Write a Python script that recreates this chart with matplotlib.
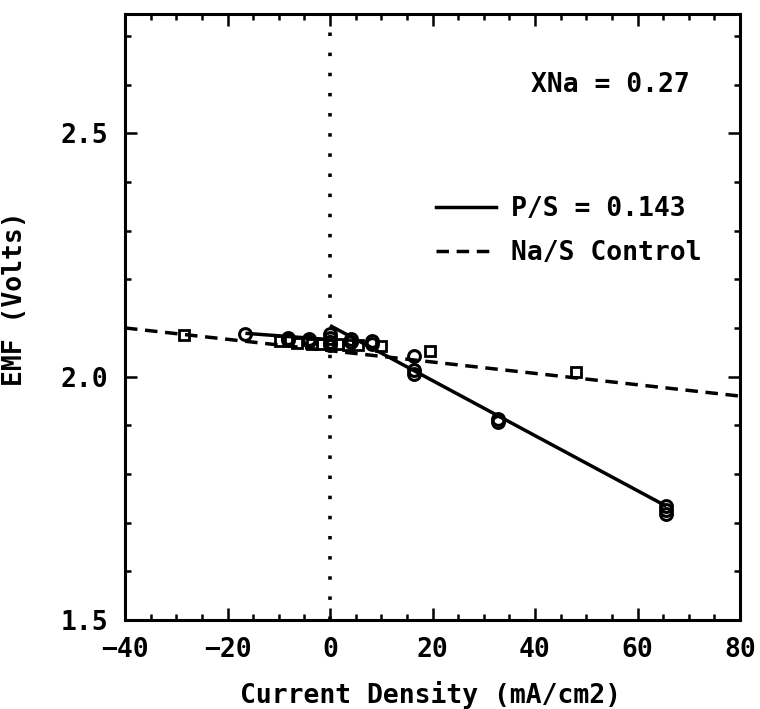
import matplotlib
matplotlib.use('Agg')
from matplotlib import pyplot as plt
from matplotlib.lines import Line2D
from matplotlib.ticker import MultipleLocator

# P/S = 0.143 cell (open circles)
ps_x = [-16.5, -8.2, -8.2, -4.1, -4.1, 0.0, 0.0, 0.0, 0.0, 4.1, 4.1, 8.2, 8.2,
        16.4, 16.4, 16.4, 32.8, 32.8, 65.6, 65.6, 65.6]
ps_y = [2.088, 2.080, 2.076, 2.078, 2.074, 2.088, 2.080, 2.072, 2.066, 2.078, 2.072,
        2.074, 2.067, 2.042, 2.014, 2.006, 1.913, 1.907, 1.734, 1.726, 1.718]
# fitted lines for the P/S cell: discharge side and charge side
ps_fit_neg_x = [-16.5, 0.0]
ps_fit_neg_y = [2.089, 2.076]
ps_fit_pos_x = [0.0, 65.6]
ps_fit_pos_y = [2.105, 1.734]

# Na/S control (open squares)
ctl_x = [-28.5, -9.8, -6.5, -3.5, -1.5, 1.5, 3.5, 5.5, 10.0, 19.5, 48.0]
ctl_y = [2.086, 2.073, 2.070, 2.068, 2.067, 2.067, 2.066, 2.064, 2.062, 2.053, 2.009]
ctl_fit_x = [-40.0, 80.0]
ctl_fit_y = [2.100, 1.960]

xna_label = 'XNa = 0.27'
series_labels = ['P/S = 0.143', 'Na/S Control']

plt.rcParams['font.family'] = ['DejaVu Sans Mono']
plt.rcParams['font.weight'] = 'bold'
plt.rcParams['lines.scale_dashes'] = False

fig = plt.figure(figsize=(7.6, 7.09), dpi=100)
ax = fig.add_axes([125 / 760, 1 - 620 / 709, 615 / 760, 606 / 709])

solid_kw = dict(color='black', lw=2.5, solid_capstyle='butt')
dash_style = (0, (9, 5.5))

ax.plot(ctl_fit_x, ctl_fit_y, color='black', lw=2.5, linestyle=dash_style)
ax.plot(ps_fit_neg_x, ps_fit_neg_y, **solid_kw)
ax.plot(ps_fit_pos_x, ps_fit_pos_y, **solid_kw)
ax.axvline(0, color='black', lw=2.6, linestyle=(0, (2.5, 12)))

ax.plot(ctl_x, ctl_y, 's', ms=6.5, mfc='none', mec='black', mew=2.0)
ax.plot(ps_x, ps_y, 'o', ms=8.5, mfc='none', mec='black', mew=2.2)

ax.set_xlim(-40, 80)
ax.set_ylim(1.5, 2.745)
ax.xaxis.set_major_locator(MultipleLocator(20))
ax.xaxis.set_minor_locator(MultipleLocator(5))
ax.yaxis.set_major_locator(MultipleLocator(0.5))
ax.yaxis.set_minor_locator(MultipleLocator(0.1))
ax.yaxis.set_major_formatter(matplotlib.ticker.FormatStrFormatter('%.1f'))
ax.tick_params(which='both', direction='in', top=True, right=True, width=1.8,
               labelsize=19)
ax.tick_params(which='major', length=8.5, pad=12)
ax.tick_params(which='minor', length=4.5)
for s in ax.spines.values():
    s.set_linewidth(2.2)

ax.set_xlabel('Current Density (mA/cm2)', fontsize=19, fontweight='bold')
ax.set_ylabel('EMF (Volts)', fontsize=19, fontweight='bold')
ax.xaxis.set_label_coords(0.496, -0.10)
ax.yaxis.set_label_coords(-0.158, 0.53)

ax.text(0.789, 0.883, xna_label, transform=ax.transAxes, ha='center', va='center',
        fontsize=19, fontweight='bold')

handles = [Line2D([], [], color='black', lw=2.5),
           Line2D([], [], color='black', lw=2.5, linestyle=dash_style)]
ax.legend(handles, series_labels, loc='upper left', bbox_to_anchor=(0.505, 0.70),
          frameon=False, fontsize=19, handlelength=2.3, handletextpad=0.55,
          labelspacing=0.7, borderpad=0, borderaxespad=0)

fig.savefig('out.png', dpi=100)
